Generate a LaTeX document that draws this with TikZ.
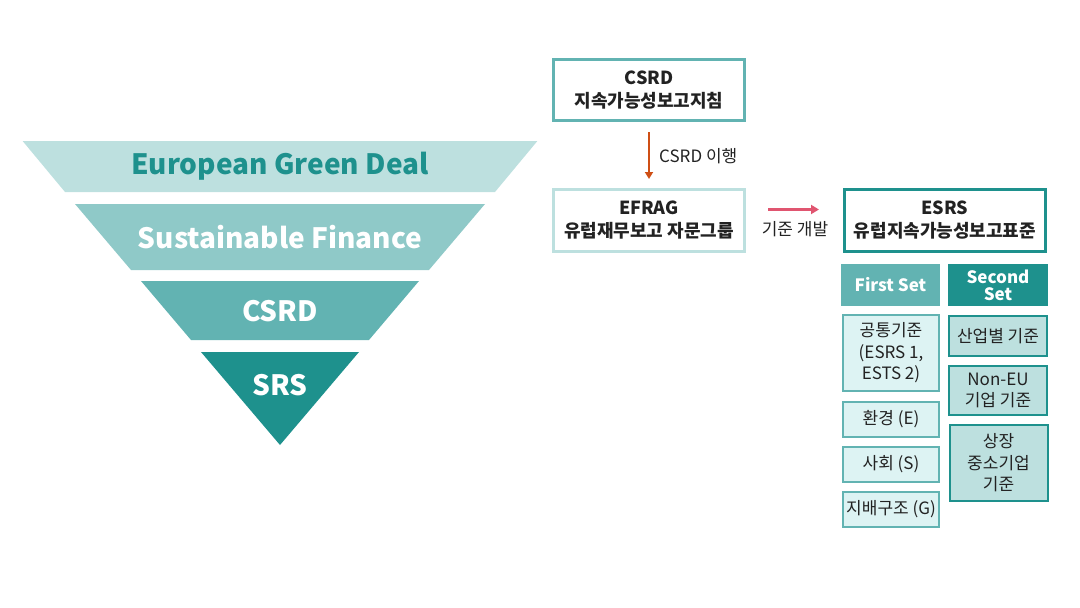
\documentclass[tikz,border=0pt]{standalone}
\usepackage{fontspec}
\setmainfont{Noto Sans CJK KR}
\usetikzlibrary{arrows.meta}
\definecolor{tA}{HTML}{BDE0DF}
\definecolor{tB}{HTML}{8FC9C8}
\definecolor{tC}{HTML}{62B3B2}
\definecolor{tD}{HTML}{1E918D}
\definecolor{tE}{HTML}{DDF3F3}
\definecolor{txt}{HTML}{222222}
\definecolor{arrOr}{HTML}{CF4F15}
\definecolor{arrPk}{HTML}{E05570}
\begin{document}
\begin{tikzpicture}[x=1pt,y=-1pt,
  pyrtext/.style={font=\bfseries\fontsize{28}{30}\selectfont, inner sep=0},
  bigbox/.style={draw, line width=3pt, fill=white, inner sep=0, align=center,
    text=txt, font=\bfseries\fontsize{18}{24}\selectfont},
  setbox/.style={inner sep=0, align=center, text=white,
    font=\bfseries\fontsize{17}{19}\selectfont},
  firstbox/.style={draw=tC, line width=2pt, fill=tE, inner sep=0, align=center,
    text=txt, font=\fontsize{17}{21.5}\selectfont, minimum width=96pt},
  secbox/.style={draw=tD, line width=2pt, fill=tA, inner sep=0, align=center,
    text=txt, font=\fontsize{17}{21.5}\selectfont, minimum width=98pt},
  lbl/.style={inner sep=0, text=txt, font=\fontsize{17}{19}\selectfont}
]
\useasboundingbox (0,0) rectangle (1080,608);

% inverted pyramid
\fill[tA] (22.6,141) -- (537.4,141) -- (495,192) -- (65,192) -- cycle;
\fill[tB] (75,204) -- (485,204) -- (429,270) -- (131,270) -- cycle;
\fill[tC] (141,281) -- (419,281) -- (369,340) -- (191,340) -- cycle;
\fill[tD] (201,352) -- (359,352) -- (280,445) -- cycle;
\node[pyrtext, text=tD] (egd) at (280,166) {European Green Deal};
\node[pyrtext, text=white] (sf) at (280,237) {Sustainable Finance};
\node[pyrtext, text=white] (pcsrd) at (280,311) {CSRD};
\node[pyrtext, text=white] (srs) at (280,385) {SRS};

% top boxes
\node[bigbox, draw=tC, minimum width=191pt, minimum height=61pt] (csrd) at (649,90)
  {CSRD\\[-1pt]지속가능성보고지침};
\node[bigbox, draw=tA, minimum width=191pt, minimum height=62pt] (efrag) at (649,220.5)
  {EFRAG\\[-1pt]유럽재무보고 자문그룹};
\node[bigbox, draw=tD, minimum width=201pt, minimum height=62pt] (esrs) at (945,220.5)
  {ESRS\\[-1pt]유럽지속가능성보고표준};

\draw[arrOr, line width=2pt, -{Triangle[length=7pt,width=8pt]}]
  ([yshift=-10pt]csrd.south) -- ([yshift=9pt]efrag.north);
\node[lbl, anchor=west] (l1) at (659,156) {CSRD 이행};

\draw[arrPk, line width=2.5pt, -{Triangle[length=8pt,width=9pt]}]
  ([shift={(22,-11)}]efrag.east) -- ([shift={(-24,-11)}]esrs.west);
\node[lbl] (l2) at (795,229) {기준 개발};

% sets
\node[setbox, fill=tC, minimum width=99pt, minimum height=42pt] (first) at (890.5,285) {First Set};
\node[setbox, fill=tD, minimum width=100pt, minimum height=42pt] (second) at (998,285) {Second\\[-2pt]Set};

\node[firstbox, minimum height=76pt] (f1) at (891,353) {공통기준\\(ESRS 1,\\ESTS 2)};
\node[firstbox, minimum height=35pt] (f2) at (891,419.5) {환경 (E)};
\node[firstbox, minimum height=35pt] (f3) at (891,464.5) {사회 (S)};
\node[firstbox, minimum height=35pt] (f4) at (891,509.5) {지배구조 (G)};

\node[secbox, minimum height=40pt] (s1) at (998,336) {산업별 기준};
\node[secbox, minimum height=49pt] (s2) at (998,390.5) {Non-EU\\기업 기준};
\node[secbox, minimum height=76pt] (s3) at (998.5,463) {상장\\중소기업\\기준};
\end{tikzpicture}
\end{document}
